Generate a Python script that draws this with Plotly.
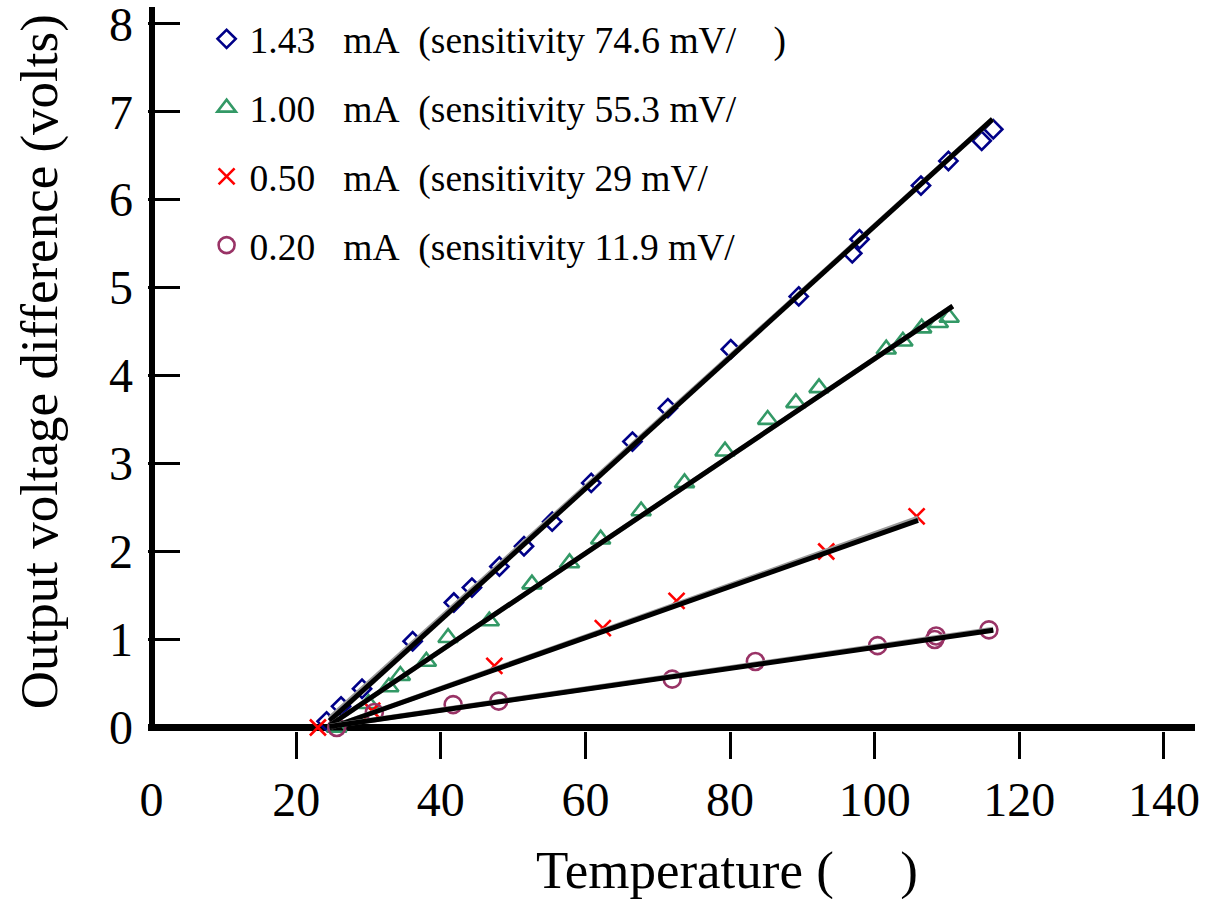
import plotly.graph_objects as go

NB = "\u00a0"

# Bias currents and sensitivities (mV/deg)
currents = ["1.43", "1.00", "0.50", "0.20"]
sensitivity_mv = [74.6, 55.3, 29, 11.9]

# Measured points: temperature (deg) and output voltage difference (V)
t_143 = [24.2, 26.2, 29.1, 36.1, 41.8, 44.3, 48.1, 51.5, 55.4, 60.8, 66.5, 71.4,
         80.1, 89.5, 96.9, 97.9, 106.4, 110.2, 114.8, 116.4]
v_143 = [0.07, 0.24, 0.44, 0.98, 1.42, 1.59, 1.83, 2.06, 2.34, 2.78, 3.25, 3.63,
         4.30, 4.90, 5.39, 5.55, 6.16, 6.44, 6.67, 6.80]

t_100 = [25.6, 30.0, 32.8, 34.4, 38.0, 41.0, 46.7, 52.6, 57.8, 62.1, 67.7, 73.7,
         79.3, 85.2, 89.1, 92.3, 101.6, 103.9, 106.5, 108.8, 110.3]
v_100 = [0.0, 0.27, 0.46, 0.59, 0.75, 1.02, 1.21, 1.63, 1.87, 2.14, 2.46, 2.78,
         3.14, 3.50, 3.69, 3.86, 4.30, 4.39, 4.54, 4.60, 4.66]

t_050 = [23.0, 30.5, 47.4, 62.4, 72.6, 93.3, 105.8]
v_050 = [0.0, 0.19, 0.70, 1.13, 1.44, 2.00, 2.40]

t_020 = [25.6, 30.8, 41.7, 48.0, 72.0, 83.5, 100.4, 108.3, 108.5, 115.8]
v_020 = [0.0, 0.17, 0.26, 0.30, 0.55, 0.75, 0.93, 1.00, 1.04, 1.11]

# Linear fits: V = slope * (T - t0), drawn from fit_t_start to fit_t_end
fit_t0 = [23.6, 24.2, 24.8, 23.6]
fit_t_start = [24.6, 24.6, 24.6, 24.6]
fit_t_end = [116.3, 110.8, 106.0, 116.4]
# secondary (grey) fit lines
fit2_slope = [0.07426, 0.0553, 0.0293, 0.0120]
fit2_t0 = [23.19, 24.2, 24.8, 23.4]

x_ticks = [0, 20, 40, 60, 80, 100, 120, 140]
y_ticks = [0, 1, 2, 3, 4, 5, 6, 7, 8]

series_t = [t_143, t_100, t_050, t_020]
series_v = [v_143, v_100, v_050, v_020]
symbols = ["diamond-open", "triangle-up-open", "x-thin-open", "circle-open"]
sizes = [14, 17, 16, 17]
colors = ["#000088", "#339966", "#ff0000", "#993366"]

FONT = "Liberation Serif"

fig = go.Figure()

for i in range(4):
    tail = NB * 4 + ")" if i == 0 else ""
    name = (f"{currents[i]}{NB*3}mA{NB*2}(sensitivity {sensitivity_mv[i]:g} mV/" + tail)
    fig.add_trace(go.Scatter(
        x=series_t[i], y=series_v[i], mode="markers", name=name,
        legendgroup=f"g{i}",
        marker=dict(symbol=symbols[i], size=sizes[i], color=colors[i],
                    line=dict(color=colors[i], width=2.6)),
        cliponaxis=False,
    ))

for i in range(4):
    s = sensitivity_mv[i] / 1000.0
    ts = [fit_t_start[i], fit_t_end[i]]
    fig.add_trace(go.Scatter(
        x=ts, y=[fit2_slope[i] * (t - fit2_t0[i]) for t in ts], mode="lines",
        line=dict(color="#9a9a9a", width=5), showlegend=False, hoverinfo="skip"))
    fig.add_trace(go.Scatter(
        x=ts, y=[s * (t - fit_t0[i]) for t in ts], mode="lines",
        line=dict(color="black", width=5), showlegend=False, hoverinfo="skip"))

L, R, T, B = 148.4, 22.7, 7, 167.5
W, H = 1218, 899
pw, ph = W - L - R, H - T - B


def px_x(x):
    return (x - L) / pw


def px_y(y):
    return (H - B - y) / ph


fig.update_layout(
    width=W, height=H,
    margin=dict(l=L, r=R, t=T, b=B, autoexpand=False),
    paper_bgcolor="white", plot_bgcolor="white",
    font=dict(family=FONT, color="black"),
    showlegend=True,
    legend=dict(
        x=px_x(204), y=px_y(8), xanchor="left", yanchor="top",
        font=dict(family=FONT, size=37.5, color="black"),
        bgcolor="rgba(0,0,0,0)", tracegroupgap=17, itemwidth=36,
        valign="top",
    ),
    xaxis=dict(
        range=[-0.5, 144.3], showgrid=False, showline=False, automargin=False,
        zeroline=True, zerolinecolor="black", zerolinewidth=6,
        tickvals=x_ticks, ticktext=[str(v) for v in x_ticks],
        ticks="", ticklabelstandoff=36, ticklabeloverflow="allow",
        tickfont=dict(family=FONT, size=48, color="black"),
        minor=dict(tickvals=x_ticks[1:], ticks="outside", ticklen=27,
                   tickwidth=3, tickcolor="black"),
    ),
    yaxis=dict(
        range=[-0.04, 8.19], showgrid=False, showline=False, automargin=False,
        zeroline=True, zerolinecolor="black", zerolinewidth=7,
        tickvals=y_ticks, ticktext=[str(v) for v in y_ticks],
        ticks="inside", ticklen=32, tickwidth=3, tickcolor="black",
        ticklabelstandoff=14, ticklabeloverflow="allow",
        tickfont=dict(family=FONT, size=48, color="black"),
    ),
    annotations=[
        dict(text="Temperature (" + NB * 5 + ")", x=px_x(727), y=px_y(871),
             xref="paper", yref="paper", showarrow=False,
             xanchor="center", yanchor="middle",
             font=dict(family=FONT, size=53, color="black")),
        dict(text="Output voltage difference (volts)", x=px_x(40), y=px_y(362),
             xref="paper", yref="paper", showarrow=False, textangle=-90,
             xanchor="center", yanchor="middle",
             font=dict(family=FONT, size=53, color="black")),
    ],
)

fig.write_html("out.html")
